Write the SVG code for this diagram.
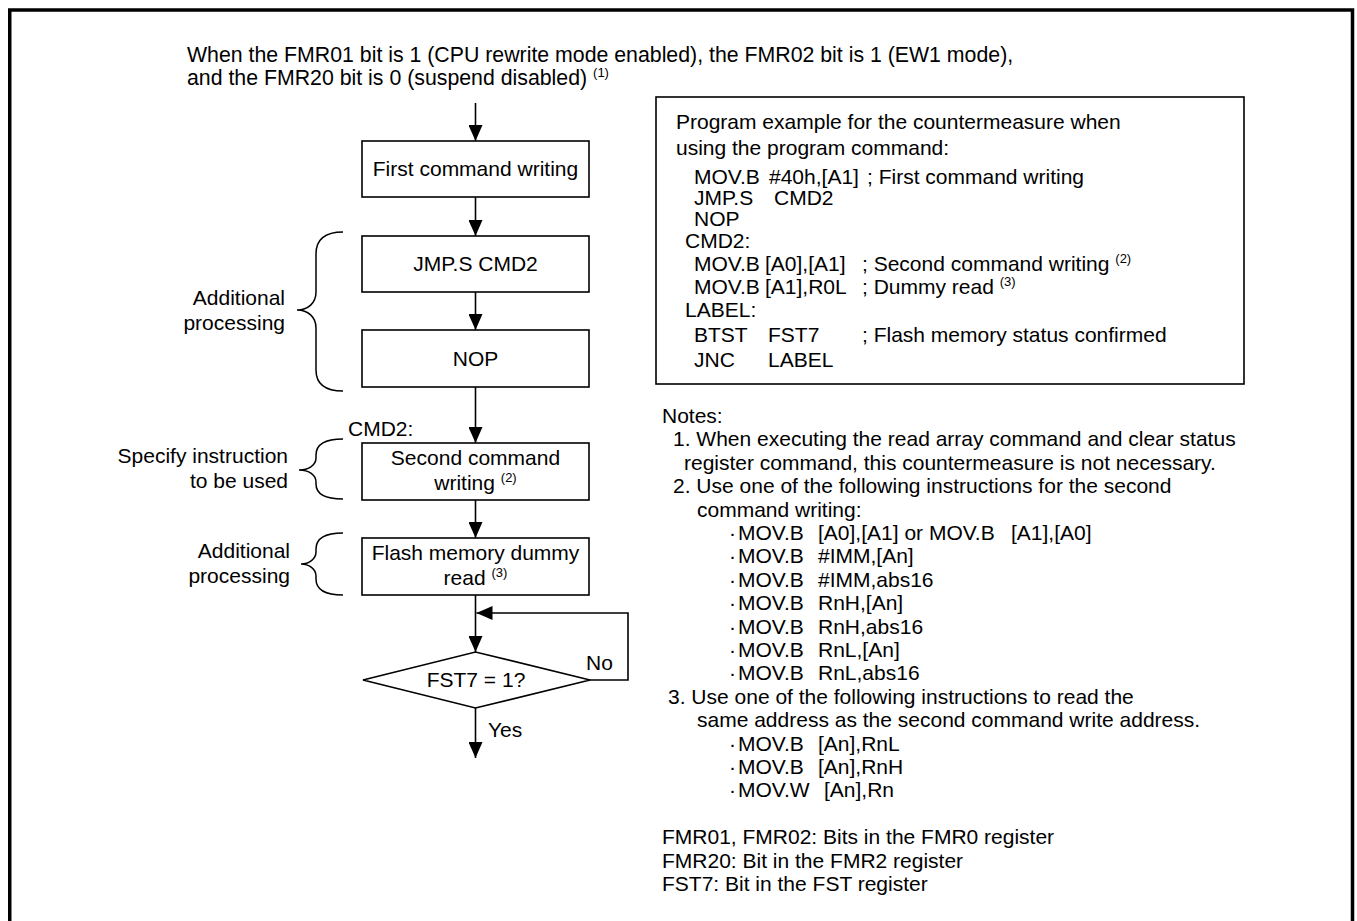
<svg xmlns="http://www.w3.org/2000/svg" width="1357" height="921" viewBox="0 0 1357 921">
<style>
.t{font-family:"Liberation Sans",Arial,sans-serif;font-size:21px;fill:#000}
.big{font-size:21.3px}
.m{text-anchor:middle}
.r{text-anchor:end}
.sup{font-size:13px}
.box{fill:#fff;stroke:#000;stroke-width:1.6}
.ln{fill:none;stroke:#000;stroke-width:1.6}
.br{fill:none;stroke:#000;stroke-width:1.5}
</style>
<defs>
<marker id="ah" viewBox="0 0 16 14" refX="16" refY="7" markerWidth="16" markerHeight="14" markerUnits="userSpaceOnUse" orient="auto">
<path d="M0,0 L16,7 L0,14 z" fill="#000"/>
</marker>
</defs>
<rect width="1357" height="921" fill="#fff"/>
<path d="M9.75,930 V10 H1352.5 V930" fill="none" stroke="#000" stroke-width="3.5"/>

<g id="heading">
<text class="t big" x="187" y="62">When the FMR01 bit is 1 (CPU rewrite mode enabled), the FMR02 bit is 1 (EW1 mode),</text>
<text class="t big" x="187" y="85">and the FMR20 bit is 0 (suspend disabled) <tspan class="sup" dy="-8">(1)</tspan></text>
</g>

<g id="connectors">
<path class="ln" d="M475.5,103 V141" marker-end="url(#ah)"/>
<path class="ln" d="M475.5,197 V236" marker-end="url(#ah)"/>
<path class="ln" d="M475.5,292 V330" marker-end="url(#ah)"/>
<path class="ln" d="M475.5,387 V443" marker-end="url(#ah)"/>
<path class="ln" d="M475.5,500 V538" marker-end="url(#ah)"/>
<path class="ln" d="M475.5,595 V652" marker-end="url(#ah)"/>
<path class="ln" d="M589,680 H628 V613 H476.5" marker-end="url(#ah)"/>
<path class="ln" d="M475.5,708 V758" marker-end="url(#ah)"/>
<text class="t" x="586" y="670">No</text>
<text class="t" x="488" y="737">Yes</text>
</g>

<g id="n-first">
<rect class="box" x="362" y="141" width="227" height="56"/>
<text class="t m" x="475.5" y="176">First command writing</text>
</g>
<g id="n-jmp">
<rect class="box" x="362" y="236" width="227" height="56"/>
<text class="t m" x="475.5" y="271">JMP.S CMD2</text>
</g>
<g id="n-nop">
<rect class="box" x="362" y="330" width="227" height="57"/>
<text class="t m" x="475.5" y="366">NOP</text>
</g>
<g id="n-second">
<text class="t" x="348" y="436">CMD2:</text>
<rect class="box" x="362" y="443" width="227" height="57"/>
<text class="t m" x="475.5" y="465">Second command</text>
<text class="t m" x="475.5" y="490">writing <tspan class="sup" dy="-8">(2)</tspan></text>
</g>
<g id="n-dummy">
<rect class="box" x="362" y="538" width="227" height="57"/>
<text class="t m" x="475.5" y="560">Flash memory dummy</text>
<text class="t m" x="475.5" y="585">read <tspan class="sup" dy="-8">(3)</tspan></text>
</g>
<g id="n-decision">
<path class="box" d="M363,680 L475.5,652 L590,680 L475.5,708 z"/>
<text class="t m" x="476" y="687">FST7 = 1?</text>
</g>

<g id="brace-additional-1">
<path class="br" d="M343,232 C326,232 316,238 316,254 L316,292 C316,303 308,310 297,310 C308,310 316,317 316,328 L316,370 C316,385 326,391 343,391"/>
<text class="t r" x="285" y="305">Additional</text>
<text class="t r" x="285" y="330">processing</text>
</g>
<g id="brace-specify">
<path class="br" d="M343,439 C325,439 316,444 316,455 L316,458 C316,465 309,470 299,470 C309,470 316,475 316,482 L316,484 C316,494 325,499 343,499"/>
<text class="t r" x="288" y="463">Specify instruction</text>
<text class="t r" x="288" y="488">to be used</text>
</g>
<g id="brace-additional-2">
<path class="br" d="M343,533 C325,533 316,538 316,549 L316,552 C316,559 309,564 301,564 C309,564 316,569 316,576 L316,579 C316,590 325,595 343,595"/>
<text class="t r" x="290" y="558">Additional</text>
<text class="t r" x="290" y="583">processing</text>
</g>

<g id="program-box">
<rect x="656" y="97" width="588" height="287" fill="#fff" stroke="#000" stroke-width="1.6"/>
<text class="t" x="676" y="129">Program example for the countermeasure when</text>
<text class="t" x="676" y="155">using the program command:</text>
<text class="t" x="694" y="184">MOV.B</text><text class="t" x="769" y="184">#40h,[A1]</text><text class="t" x="867" y="184">; First command writing</text>
<text class="t" x="694" y="205">JMP.S</text><text class="t" x="774" y="205">CMD2</text>
<text class="t" x="694" y="226">NOP</text>
<text class="t" x="685" y="248">CMD2:</text>
<text class="t" x="694" y="271">MOV.B</text><text class="t" x="765" y="271">[A0],[A1]</text><text class="t" x="862" y="271">; Second command writing <tspan class="sup" dy="-8">(2)</tspan></text>
<text class="t" x="694" y="294">MOV.B</text><text class="t" x="765" y="294">[A1],R0L</text><text class="t" x="862" y="294">; Dummy read <tspan class="sup" dy="-8">(3)</tspan></text>
<text class="t" x="685" y="317">LABEL:</text>
<text class="t" x="694" y="342">BTST</text><text class="t" x="768" y="342">FST7</text><text class="t" x="862" y="342">; Flash memory status confirmed</text>
<text class="t" x="694" y="367">JNC</text><text class="t" x="768" y="367">LABEL</text>
</g>

<g id="notes">
<text class="t" x="662" y="423">Notes:</text>
<text class="t" x="673" y="446.4">1. When executing the read array command and clear status</text>
<text class="t" x="684" y="469.8">register command, this countermeasure is not necessary.</text>
<text class="t" x="673" y="493.2">2. Use one of the following instructions for the second</text>
<text class="t" x="697" y="516.6">command writing:</text>
<text class="t" x="729" y="540">·</text><text class="t" x="738" y="540">MOV.B</text><text class="t" x="818" y="540">[A0],[A1] or MOV.B</text><text class="t" x="1011" y="540">[A1],[A0]</text>
<text class="t" x="729" y="563.4">·</text><text class="t" x="738" y="563.4">MOV.B</text><text class="t" x="818" y="563.4">#IMM,[An]</text>
<text class="t" x="729" y="586.8">·</text><text class="t" x="738" y="586.8">MOV.B</text><text class="t" x="818" y="586.8">#IMM,abs16</text>
<text class="t" x="729" y="610.2">·</text><text class="t" x="738" y="610.2">MOV.B</text><text class="t" x="818" y="610.2">RnH,[An]</text>
<text class="t" x="729" y="633.6">·</text><text class="t" x="738" y="633.6">MOV.B</text><text class="t" x="818" y="633.6">RnH,abs16</text>
<text class="t" x="729" y="657">·</text><text class="t" x="738" y="657">MOV.B</text><text class="t" x="818" y="657">RnL,[An]</text>
<text class="t" x="729" y="680.4">·</text><text class="t" x="738" y="680.4">MOV.B</text><text class="t" x="818" y="680.4">RnL,abs16</text>
<text class="t" x="668" y="703.8">3. Use one of the following instructions to read the</text>
<text class="t" x="697" y="727.2">same address as the second command write address.</text>
<text class="t" x="729" y="750.6">·</text><text class="t" x="738" y="750.6">MOV.B</text><text class="t" x="818" y="750.6">[An],RnL</text>
<text class="t" x="729" y="774">·</text><text class="t" x="738" y="774">MOV.B</text><text class="t" x="818" y="774">[An],RnH</text>
<text class="t" x="729" y="797.4">·</text><text class="t" x="738" y="797.4">MOV.W</text><text class="t" x="824" y="797.4">[An],Rn</text>
<text class="t" x="662" y="844.2">FMR01, FMR02: Bits in the FMR0 register</text>
<text class="t" x="662" y="867.6">FMR20: Bit in the FMR2 register</text>
<text class="t" x="662" y="891">FST7: Bit in the FST register</text>
</g>
</svg>
